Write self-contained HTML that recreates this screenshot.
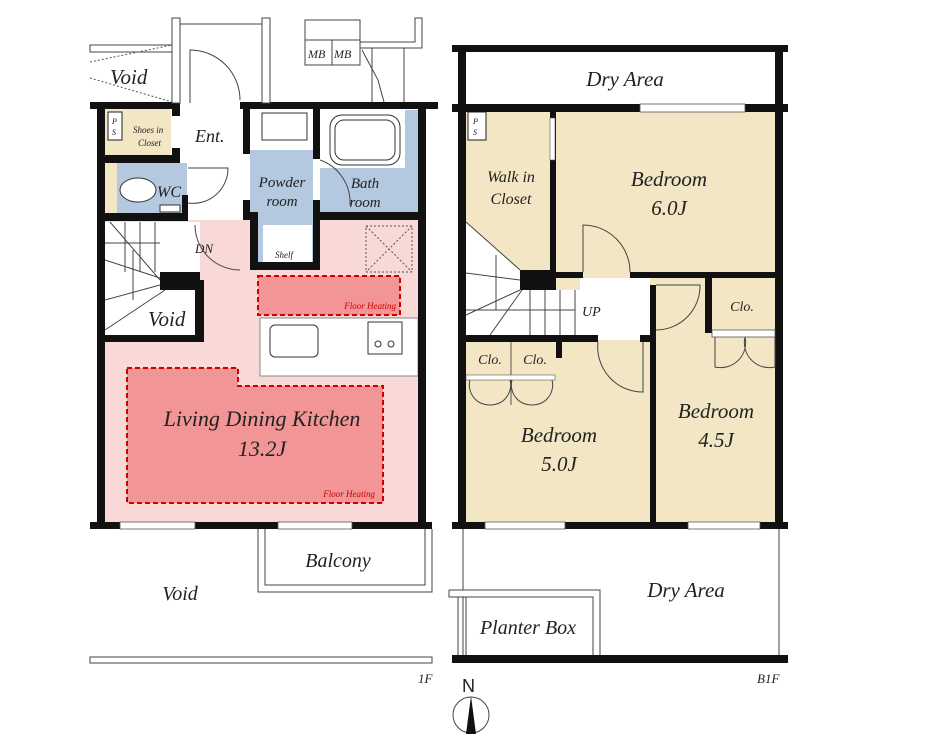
<!DOCTYPE html>
<html><head><meta charset="utf-8"><style>
html,body{margin:0;padding:0;background:#fff;}
svg text{font-family:"Liberation Serif",serif;font-style:italic;fill:#222;}
</style></head><body>
<svg width="944" height="736" viewBox="0 0 944 736" xmlns="http://www.w3.org/2000/svg">
<!-- ===== 1F ===== -->
<rect x="105" y="220" width="314" height="303" fill="#f9d8d8"/>
<rect x="105" y="108" width="66" height="50" fill="#f3e6c4"/>
<rect x="108" y="112" width="14" height="28" fill="#fff" stroke="#222" stroke-width="1"/>
<rect x="105" y="163" width="12" height="50" fill="#f3e6c4"/>
<rect x="117" y="163" width="70" height="50" fill="#b4c8e0"/>
<rect x="250" y="150" width="63" height="70" fill="#b4c8e0"/>
<rect x="258" y="220" width="55" height="42" fill="#b4c8e0"/>
<rect x="263" y="225" width="49" height="37" fill="#fff"/>
<rect x="320" y="168" width="98" height="45" fill="#b4c8e0"/>
<rect x="405" y="110" width="13" height="103" fill="#b4c8e0"/>
<rect x="330" y="115" width="70" height="50" rx="12" fill="none" stroke="#333"/>
<rect x="335" y="120" width="60" height="40" rx="9" fill="none" stroke="#333"/>
<rect x="262" y="113" width="45" height="27" fill="none" stroke="#333"/>
<ellipse cx="138" cy="190" rx="18" ry="12" fill="#fff" stroke="#333"/>
<rect x="160" y="205" width="20" height="7" fill="#fff" stroke="#333"/>
<rect x="105" y="222" width="95" height="118" fill="#fff"/>
<g stroke="#444" stroke-width="1" fill="none">
<line x1="125" y1="222" x2="125" y2="272"/><line x1="140" y1="222" x2="140" y2="272"/><line x1="155" y1="222" x2="155" y2="272"/>
<line x1="105" y1="243" x2="160" y2="243"/><line x1="105" y1="260" x2="160" y2="278"/>
<line x1="110" y1="222" x2="160" y2="280"/><line x1="105" y1="300" x2="160" y2="285"/><line x1="105" y1="330" x2="165" y2="290"/>
<line x1="133" y1="250" x2="133" y2="300"/>
</g>
<rect x="160" y="272" width="40" height="18" fill="#111"/>
<rect x="195" y="280" width="9" height="62" fill="#111"/>
<rect x="100" y="335" width="104" height="7" fill="#111"/>
<text x="148" y="326" font-size="21">Void</text>
<rect x="258" y="276" width="142" height="39" fill="#f29596" stroke="#c00" stroke-width="2" stroke-dasharray="5,3"/>
<text x="396" y="309" font-size="9" style="fill:#c00" text-anchor="end">Floor Heating</text>
<rect x="366" y="226" width="46" height="46" fill="none" stroke="#555" stroke-dasharray="2,2"/>
<line x1="366" y1="226" x2="412" y2="272" stroke="#555" stroke-dasharray="2,2"/>
<line x1="412" y1="226" x2="366" y2="272" stroke="#555" stroke-dasharray="2,2"/>
<rect x="260" y="318" width="158" height="58" fill="#fff" stroke="#888"/>
<rect x="270" y="325" width="48" height="32" rx="5" fill="none" stroke="#333"/>
<rect x="368" y="322" width="34" height="32" fill="none" stroke="#333"/>
<circle cx="378" cy="344" r="3" fill="none" stroke="#333"/><circle cx="391" cy="344" r="3" fill="none" stroke="#333"/>
<polygon points="127,368 238,368 238,386 383,386 383,503 127,503" fill="#f29596" stroke="#c00" stroke-width="2" stroke-dasharray="5,3"/>
<text x="262" y="426" font-size="22" text-anchor="middle">Living Dining Kitchen</text>
<text x="262" y="456" font-size="22" text-anchor="middle">13.2J</text>
<text x="375" y="497" font-size="9" text-anchor="end" style="fill:#c00">Floor Heating</text>
<g fill="#111">
<rect x="90" y="102" width="90" height="7"/><rect x="240" y="102" width="198" height="7"/>
<rect x="97" y="102" width="8" height="427"/>
<rect x="418" y="102" width="8" height="427"/>
<rect x="90" y="522" width="342" height="7"/>
<rect x="172" y="108" width="8" height="8"/><rect x="172" y="148" width="8" height="10"/>
<rect x="105" y="155" width="75" height="8"/>
<rect x="182" y="195" width="6" height="20"/>
<rect x="100" y="213" width="88" height="8"/>
<rect x="243" y="102" width="7" height="52"/><rect x="243" y="200" width="7" height="20"/>
<rect x="250" y="212" width="8" height="58"/>
<rect x="313" y="102" width="7" height="57"/><rect x="313" y="200" width="7" height="70"/>
<rect x="253" y="262" width="67" height="8"/>
<rect x="313" y="212" width="106" height="8"/>
</g>
<rect x="120" y="522" width="75" height="7" fill="#fff" stroke="#555" stroke-width="0.8"/>
<rect x="278" y="522" width="74" height="7" fill="#fff" stroke="#555" stroke-width="0.8"/>
<text x="195" y="142" font-size="18">Ent.</text>
<text x="133" y="133" font-size="9">Shoes in</text><text x="138" y="146" font-size="9">Closet</text>
<text x="112" y="124" font-size="8">P</text><text x="112" y="135" font-size="8">S</text>
<text x="157" y="197" font-size="16">WC</text>
<text x="282" y="187" font-size="15" text-anchor="middle">Powder</text>
<text x="282" y="206" font-size="15" text-anchor="middle">room</text>
<text x="365" y="188" font-size="15" text-anchor="middle">Bath</text>
<text x="365" y="207" font-size="15" text-anchor="middle">room</text>
<text x="275" y="258" font-size="9">Shelf</text>
<text x="195" y="253" font-size="13">DN</text>
<g stroke="#444" fill="none">
<path d="M195 225 A45 45 0 0 0 240 270"/>
<path d="M188 168 L228 168 A35 35 0 0 1 188 203"/>
<path d="M320 160 A45 45 0 0 1 350 205"/>
</g>
<rect x="90" y="45" width="82" height="7" fill="#fff" stroke="#444"/>
<rect x="172" y="18" width="8" height="85" fill="#fff" stroke="#444"/>
<rect x="262" y="18" width="8" height="85" fill="#fff" stroke="#444"/>
<line x1="180" y1="24" x2="262" y2="24" stroke="#444"/>
<path d="M190 103 L190 50 A50 50 0 0 1 240 100" fill="none" stroke="#444"/>
<rect x="305" y="20" width="55" height="45" fill="#fff" stroke="#444"/>
<line x1="305" y1="40" x2="360" y2="40" stroke="#444"/><line x1="332" y1="40" x2="332" y2="65" stroke="#444"/>
<text x="308" y="58" font-size="12">MB</text><text x="334" y="58" font-size="12">MB</text>
<path d="M360 42 L415 42 L415 18 L422 18 L422 48 L360 48" fill="none" stroke="#444"/>
<g stroke="#444" fill="none"><line x1="372" y1="48" x2="372" y2="102"/><line x1="404" y1="48" x2="404" y2="102"/><path d="M362 50 L378 80 L384 102"/></g>
<g stroke="#555" stroke-dasharray="2,2"><line x1="90" y1="62" x2="172" y2="45"/><line x1="90" y1="78" x2="172" y2="102"/></g>
<text x="110" y="84" font-size="21">Void</text>
<path d="M258 529 L258 592 L432 592 L432 529 M265 529 L265 585 L425 585 L425 529" fill="none" stroke="#444"/>
<text x="338" y="567" font-size="20" text-anchor="middle">Balcony</text>
<text x="180" y="600" font-size="20" text-anchor="middle">Void</text>
<rect x="90" y="657" width="342" height="6" fill="#fff" stroke="#444"/>
<text x="418" y="683" font-size="13">1F</text>

<!-- ===== B1F ===== -->
<rect x="466" y="112" width="309" height="410" fill="#f3e6c4"/>
<rect x="468" y="112" width="18" height="28" fill="#fff" stroke="#222"/>
<text x="473" y="124" font-size="8">P</text><text x="473" y="135" font-size="8">S</text>
<path d="M466 222 L520 270 L520 290 L580 290 L580 335 L466 335 Z" fill="#fff"/>
<rect x="580" y="278" width="70" height="62" fill="#fff"/>
<g stroke="#444" fill="none">
<line x1="466" y1="222" x2="520" y2="270"/>
<line x1="466" y1="273" x2="520" y2="280"/>
<line x1="466" y1="315" x2="520" y2="290"/><line x1="490" y1="335" x2="522" y2="290"/>
<line x1="530" y1="290" x2="530" y2="335"/><line x1="545" y1="290" x2="545" y2="335"/><line x1="560" y1="290" x2="560" y2="335"/><line x1="575" y1="290" x2="575" y2="335"/>
<line x1="466" y1="310" x2="575" y2="310"/>
<path d="M496 255 L496 310 L575 310"/>
</g>
<rect x="520" y="270" width="36" height="20" fill="#111"/>
<text x="582" y="316" font-size="14">UP</text>
<g fill="#111">
<rect x="452" y="45" width="336" height="7"/>
<rect x="458" y="45" width="8" height="484"/>
<rect x="775" y="45" width="8" height="484"/>
<rect x="452" y="104" width="188" height="8"/><rect x="745" y="104" width="43" height="8"/>
<rect x="550" y="112" width="6" height="160"/>
<rect x="520" y="272" width="63" height="6"/><rect x="630" y="272" width="150" height="6"/>
<rect x="466" y="335" width="132" height="7"/><rect x="640" y="335" width="12" height="7"/>
<rect x="555" y="340" width="7" height="18"/>
<rect x="650" y="285" width="6" height="240"/>
<rect x="705" y="278" width="7" height="55"/>
<rect x="452" y="522" width="336" height="7"/>
<rect x="452" y="655" width="336" height="8"/>
</g>
<rect x="550" y="118" width="5" height="42" fill="#fff" stroke="#555" stroke-width="0.6"/>
<rect x="640" y="104" width="105" height="8" fill="#fff" stroke="#555" stroke-width="0.8"/>
<rect x="712" y="330" width="63" height="7" fill="#fff" stroke="#555" stroke-width="0.8"/>
<rect x="485" y="522" width="80" height="7" fill="#fff" stroke="#555" stroke-width="0.8"/>
<rect x="688" y="522" width="72" height="7" fill="#fff" stroke="#555" stroke-width="0.8"/>
<rect x="466" y="342" width="90" height="36" fill="#f3e6c4"/>
<line x1="511" y1="342" x2="511" y2="405" stroke="#555"/>
<rect x="466" y="375" width="89" height="5" fill="#fff" stroke="#555" stroke-width="0.6"/>
<g stroke="#444" fill="none">
<path d="M583 272 L583 225 A47 47 0 0 1 630 272"/>
<path d="M656 285 L700 285 A44 44 0 0 1 656 330"/>
<path d="M598 342 A45 45 0 0 0 643 392 L643 342"/>
<path d="M470 380 A20 20 0 0 0 490 405 M510 380 A20 20 0 0 1 490 405"/>
<path d="M512 380 A20 20 0 0 0 532 405 M552 380 A20 20 0 0 1 532 405"/>
<path d="M715 337 L715 367 A25 25 0 0 0 745 337 M775 337 L775 367 A25 25 0 0 1 745 337"/>
</g>
<text x="625" y="86" font-size="21" text-anchor="middle">Dry Area</text>
<text x="511" y="182" font-size="16" text-anchor="middle">Walk in</text>
<text x="511" y="204" font-size="16" text-anchor="middle">Closet</text>
<text x="669" y="186" font-size="21" text-anchor="middle">Bedroom</text>
<text x="669" y="215" font-size="21" text-anchor="middle">6.0J</text>
<text x="742" y="311" font-size="14" text-anchor="middle">Clo.</text>
<text x="490" y="364" font-size="14" text-anchor="middle">Clo.</text>
<text x="535" y="364" font-size="14" text-anchor="middle">Clo.</text>
<text x="559" y="442" font-size="21" text-anchor="middle">Bedroom</text>
<text x="559" y="471" font-size="21" text-anchor="middle">5.0J</text>
<text x="716" y="418" font-size="21" text-anchor="middle">Bedroom</text>
<text x="716" y="447" font-size="21" text-anchor="middle">4.5J</text>
<line x1="463" y1="529" x2="463" y2="655" stroke="#444"/>
<line x1="779" y1="529" x2="779" y2="655" stroke="#444"/>
<path d="M449 590 L600 590 L600 655 M449 590 L449 597 L593 597 L593 655 M458 597 L458 655 M466 597 L466 655" fill="#fff" stroke="#444"/>
<text x="528" y="634" font-size="20" text-anchor="middle">Planter Box</text>
<text x="686" y="597" font-size="21" text-anchor="middle">Dry Area</text>
<text x="757" y="683" font-size="13">B1F</text>
<text x="462" y="692" font-size="18" style="font-style:normal;font-family:'Liberation Sans',sans-serif">N</text>
<circle cx="471" cy="715" r="18" fill="#fff" stroke="#444"/>
<polygon points="471,696 466,734 476,734" fill="#111"/>
</svg>
</body></html>
